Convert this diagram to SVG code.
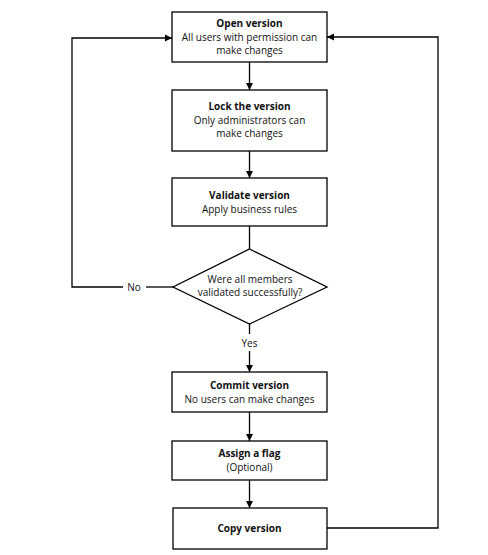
<svg xmlns="http://www.w3.org/2000/svg" width="488" height="555" viewBox="0 0 488 555">
<defs>
<style>
.box{fill:#fff;stroke:#000;stroke-width:1.3}
.t{font-family:"Open Sans","Noto Sans",sans-serif;font-size:10px;fill:#111;text-anchor:middle}
.b{font-weight:bold}
.c{fill:none;stroke:#000;stroke-width:1.3}
</style>
<marker id="ah" markerWidth="8" markerHeight="8" refX="7" refY="4" orient="auto" markerUnits="userSpaceOnUse">
<path d="M0,0.5 L7,4 L0,7.5 Z" fill="#000"/>
</marker>
</defs>
<rect width="488" height="555" fill="#fff"/>
<g id="connectors">
<line class="c" x1="249.5" y1="62" x2="249.5" y2="90" marker-end="url(#ah)"/>
<line class="c" x1="249.5" y1="151" x2="249.5" y2="178" marker-end="url(#ah)"/>
<line class="c" x1="249.5" y1="226" x2="249.5" y2="249"/>
<polyline class="c" points="173,287 146,287"/>
<polyline class="c" points="123,287 72,287 72,38 172,38" marker-end="url(#ah)"/>
<line class="c" x1="249.5" y1="324" x2="249.5" y2="334"/>
<line class="c" x1="249.5" y1="351" x2="249.5" y2="372" marker-end="url(#ah)"/>
<line class="c" x1="249.5" y1="412" x2="249.5" y2="441" marker-end="url(#ah)"/>
<line class="c" x1="249.5" y1="480" x2="249.5" y2="508" marker-end="url(#ah)"/>
<polyline class="c" points="327,528 438,528 438,37 327,37" marker-end="url(#ah)"/>
<text class="t" x="134" y="291">No</text>
<text class="t" x="249.5" y="347">Yes</text>
</g>
<g id="open">
<rect class="box" x="172" y="12" width="155" height="50"/>
<text class="t b" x="249.5" y="27">Open version</text>
<text class="t" x="249.5" y="41">All users with permission can</text>
<text class="t" x="249.5" y="54">make changes</text>
</g>
<g id="lock">
<rect class="box" x="172" y="90" width="155" height="61"/>
<text class="t b" x="249.5" y="110">Lock the version</text>
<text class="t" x="249.5" y="124">Only administrators can</text>
<text class="t" x="249.5" y="137">make changes</text>
</g>
<g id="validate">
<rect class="box" x="172" y="178" width="155" height="48"/>
<text class="t b" x="249.5" y="199">Validate version</text>
<text class="t" x="249.5" y="213">Apply business rules</text>
</g>
<g id="decision">
<polygon class="box" points="249.5,249 327,287 249.5,324 173,287"/>
<text class="t" x="250" y="283">Were all members</text>
<text class="t" x="250" y="296">validated successfully?</text>
</g>
<g id="commit">
<rect class="box" x="172" y="372" width="155" height="40"/>
<text class="t b" x="249.5" y="389">Commit version</text>
<text class="t" x="249.5" y="403">No users can make changes</text>
</g>
<g id="flag">
<rect class="box" x="172" y="441" width="155" height="39"/>
<text class="t b" x="249.5" y="457">Assign a flag</text>
<text class="t" x="249.5" y="471">(Optional)</text>
</g>
<g id="copy">
<rect class="box" x="173" y="508" width="154" height="41"/>
<text class="t b" x="249.5" y="532">Copy version</text>
</g>
</svg>
